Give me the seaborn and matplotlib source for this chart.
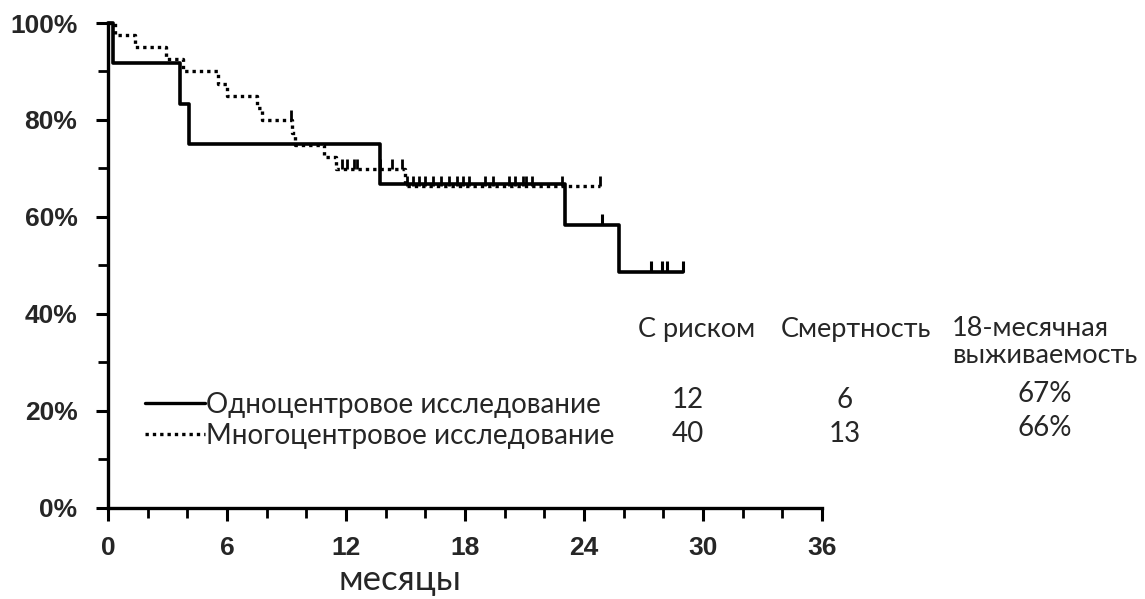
import numpy as np
import pandas as pd
import matplotlib
matplotlib.use("Agg")
import matplotlib.pyplot as plt
import seaborn as sns
from matplotlib.ticker import MultipleLocator, PercentFormatter
from matplotlib.lines import Line2D

# ---------------- данные ----------------
# одноцентровое исследование (сплошная линия)
single_t = [0, 0.25, 3.65, 4.1, 13.7, 23.05, 25.75, 29.0]
single_s = [100, 91.7, 83.3, 75.0, 66.7, 58.3, 48.6, 48.6]
single_cens_t = [24.9, 27.4, 27.95, 28.2, 29.0]
single_cens_s = [58.3, 48.6, 48.6, 48.6, 48.6]

# многоцентровое исследование (пунктир)
multi_t = [0, 0.35, 1.35, 2.95, 3.8, 5.55, 6.0, 7.5, 7.75, 9.3, 9.45, 10.9, 11.5, 15.0, 24.8]
multi_s = [100, 97.5, 95.0, 92.5, 90.0, 87.5, 85.0, 82.5, 80.0, 77.4, 74.8, 72.4, 69.9, 66.4, 66.4]
multi_cens_t = [9.25, 11.8, 12.05, 12.4, 12.55, 13.7, 14.3, 14.8,
                15.1, 15.4, 15.7, 16.0, 16.4, 16.8, 17.2, 17.6, 17.9, 18.2,
                19.0, 19.4, 20.2, 20.5, 20.9, 21.1, 21.4, 22.9, 24.8]
multi_cens_s = [80.0] + [69.9] * 7 + [66.4] * 19

legend_labels = ["Одноцентровое исследование", "Многоцентровое исследование"]
table_headers = ["С риском", "Смертность", "18-месячная\nвыживаемость"]
at_risk = ["12", "40"]
deaths = ["6", "13"]
surv18 = ["67%", "66%"]

# ---------------- рисунок ----------------
sns.set_style("ticks")
plt.rcParams["font.family"] = ["Liberation Sans", "DejaVu Sans"]

fig = plt.figure(figsize=(11.45, 5.99), dpi=100)
ax = fig.add_axes([0.0943, 0.152, 0.6236, 0.8096])

df1 = pd.DataFrame({"t": single_t, "s": single_s})
df2 = pd.DataFrame({"t": multi_t, "s": multi_s})

sns.lineplot(data=df1, x="t", y="s", ax=ax, color="black", lw=2.6,
             drawstyle="steps-post", estimator=None, sort=False, clip_on=False)
sns.lineplot(data=df2, x="t", y="s", ax=ax, color="black", lw=2.4,
             linestyle=(0, (1, 1.2)), drawstyle="steps-post",
             estimator=None, sort=False, clip_on=False)

# отметки цензурирования
ax.plot(single_cens_t, single_cens_s, ls="none", marker=2, ms=8, mew=2.2,
        color="black", clip_on=False)
ax.plot(multi_cens_t, multi_cens_s, ls="none", marker=2, ms=7, mew=2.0,
        color="black", clip_on=False)

ax.set_xlim(0, 36)
ax.set_ylim(0, 100)
ax.xaxis.set_major_locator(MultipleLocator(6))
ax.xaxis.set_minor_locator(MultipleLocator(2))
ax.yaxis.set_major_locator(MultipleLocator(20))
ax.yaxis.set_minor_locator(MultipleLocator(10))
ax.yaxis.set_major_formatter(PercentFormatter(decimals=0))

for s in ["top", "right"]:
    ax.spines[s].set_visible(False)
for s in ["left", "bottom"]:
    ax.spines[s].set_linewidth(2.4)
    ax.spines[s].set_color("black")

ax.tick_params(which="major", length=9, width=2.2, color="black", labelsize=19)
ax.tick_params(which="minor", length=7.5, width=2.0, color="black")
ax.tick_params(axis="y", which="major", pad=13)
ax.tick_params(axis="x", which="major", pad=11)
for lab in ax.get_xticklabels() + ax.get_yticklabels():
    lab.set_fontweight("bold")

ax.set_xlabel("")
ax.set_ylabel("")

calib = ["Lato", "DejaVu Sans"]
fig.text(400 / 1145, 1 - 580 / 599, "месяцы", ha="center", va="center",
         fontsize=25, family=calib)

# легенда
W, H = 1145, 599
leg_y = [403, 434]
styles = ["-", (0, (1, 1.2))]
for y, st, lab in zip(leg_y, styles, legend_labels):
    fig.add_artist(Line2D([145 / W, 205 / W], [1 - y / H, 1 - y / H],
                          color="black", lw=2.4, ls=st))
    fig.text(206 / W, 1 - (y + 2) / H, lab, ha="left", va="center",
             fontsize=20, family=calib)

# таблица
fig.text(697 / W, 1 - 330 / H, table_headers[0], ha="center", va="center",
         fontsize=19.5, family=calib)
fig.text(856 / W, 1 - 330 / H, table_headers[1], ha="center", va="center",
         fontsize=19.5, family=calib)
fig.text(952 / W, 1 - 342 / H, table_headers[2], ha="left", va="center",
         fontsize=19.5, family=calib, linespacing=1.1)
for y, a, d, s in zip([400, 434], at_risk, deaths, surv18):
    fig.text(688 / W, 1 - y / H, a, ha="center", va="center", fontsize=20, family=calib)
    fig.text(845 / W, 1 - y / H, d, ha="center", va="center", fontsize=20, family=calib)
    fig.text(1045 / W, 1 - (y - 6) / H, s, ha="center", va="center", fontsize=20, family=calib)

fig.savefig("out.png", dpi=100)
